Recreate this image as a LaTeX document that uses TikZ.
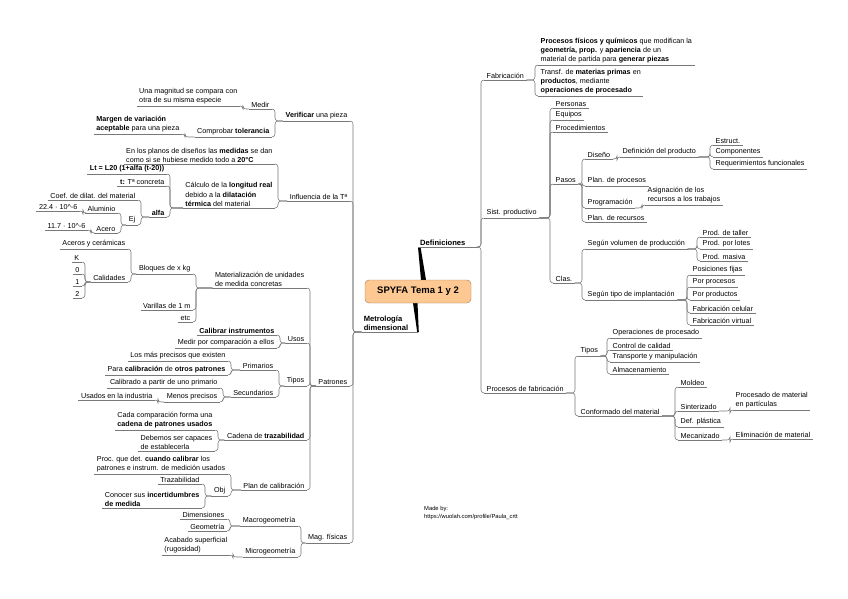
\documentclass[tikz,border=0pt]{standalone}
\usepackage{fontspec}
\setmainfont{Liberation Sans}
\usetikzlibrary{positioning}

\definecolor{linegray}{RGB}{120,120,120}
\definecolor{rootfill}{RGB}{253,200,145}
\definecolor{rootdraw}{RGB}{160,120,90}

\begin{document}
\begin{tikzpicture}[
    x=1pt, y=-1pt,
    uline/.style={draw=linegray, line width=0.55pt},
    topic/.style={font=\fontsize{7.2}{9.2}\selectfont, inner xsep=2.5pt, inner ysep=1.4pt, align=left,
        append after command={(\tikzlastnode.south west) edge[uline] (\tikzlastnode.south east)}},
    ltopic/.style={topic, anchor=south east},
    rtopic/.style={topic, anchor=south west},
    mainbranch/.style={font=\bfseries\fontsize{7.6}{9}\selectfont, inner xsep=2pt, inner ysep=1.4pt, align=left},
    root/.style={draw=rootdraw, fill=rootfill, rounded corners=4pt, minimum width=106pt, minimum height=23pt,
        font=\bfseries\fontsize{9.5}{11}\selectfont},
    rlink/.style={draw=linegray, line width=0.55pt, rounded corners=3pt,
        to path={-| ([xshift=-3pt]\tikztotarget.south west) -- (\tikztotarget.south west)}},
    llink/.style={draw=linegray, line width=0.55pt, rounded corners=3pt,
        to path={-| ([xshift=3pt]\tikztotarget.south east) -- (\tikztotarget.south east)}},
    credit/.style={font=\fontsize{5.8}{7.6}\selectfont, inner sep=0pt, align=left}
]
\fill[white] (0,0) rectangle (848,599);
\useasboundingbox (0,0) rectangle (848,599);

% centre
\fill[black] (418,247) -- (420.5,247) -- (426,280) -- (421,280) -- cycle;
\fill[black] (413,303) -- (417.5,303) -- (418.8,332) -- (417.2,332) -- cycle;
\node[root] (root) at (418,291.5) {SPYFA Tema 1 y 2};
\node[mainbranch, anchor=south west, text width=56pt] (defin) at (418,247) {Definiciones};
\node[mainbranch, anchor=south east, text width=52pt] (metro) at (418,332) {Metrología\\dimensional};
\draw[uline] (defin.south west) -- (defin.south east);
\draw[uline] (metro.south west) -- (metro.south east);

% Definiciones
\node[rtopic] (fabric) at (484,80) {Fabricación};
\node[rtopic] (fabdef1) at (538,65) {\textbf{Procesos físicos y químicos} que modifican la\\\textbf{geometría, prop.} y \textbf{apariencia} de un\\material de partida para \textbf{generar piezas}};
\node[rtopic] (fabdef2) at (538,96) {Transf. de \textbf{materias primas} en\\\textbf{productos}, mediante\\\textbf{operaciones de procesado}};

\node[rtopic] (sist) at (484,218) {Sist. productivo};
\node[rtopic] (pers) at (553,108) {Personas};
\node[rtopic] (equi) at (553,120) {Equipos};
\node[rtopic] (procd) at (553,132) {Procedimientos};
\node[rtopic] (pasos) at (553,184) {Pasos};
\node[rtopic] (disen) at (585,159) {Diseño};
\node[rtopic] (defprod) at (620,157) {Definición del producto};
\node[rtopic] (estr) at (713,145) {Estruct.};
\node[rtopic] (comp) at (713,157) {Componentes};
\node[rtopic] (requ) at (713,169) {Requerimientos funcionales};
\node[rtopic] (planproc) at (585,186) {Plan. de procesos};
\node[rtopic] (progr) at (585,208) {Programación};
\node[rtopic] (asign) at (645,205) {Asignación de los\\recursos a los trabajos};
\node[rtopic] (planrec) at (585,222) {Plan. de recursos};
\node[rtopic] (clas) at (553,283) {Clas.};
\node[rtopic] (volum) at (585,249) {Según volumen de producción};
\node[rtopic] (taller) at (700,237) {Prod. de taller};
\node[rtopic] (lotes) at (700,249) {Prod. por lotes};
\node[rtopic] (masiva) at (700,261) {Prod. masiva};
\node[rtopic] (implan) at (585,300) {Según tipo de implantación};
\node[rtopic] (posfij) at (690,275) {Posiciones fijas};
\node[rtopic] (porproc) at (690,287) {Por procesos};
\node[rtopic] (porprod) at (690,300) {Por productos};
\node[rtopic] (celul) at (690,313) {Fabricación celular};
\node[rtopic] (virt) at (690,325) {Fabricación virtual};

\node[rtopic] (procfab) at (484,393) {Procesos de fabricación};
\node[rtopic] (tipos) at (578,356) {Tipos};
\node[rtopic] (operproc) at (610,338) {Operaciones de procesado};
\node[rtopic] (calidad) at (610,350) {Control de calidad};
\node[rtopic] (transp) at (610,362) {Transporte y manipulación};
\node[rtopic] (almac) at (610,374) {Almacenamiento};
\node[rtopic] (conform) at (578,416) {Conformado del material};
\node[rtopic] (moldeo) at (678,387) {Moldeo};
\node[rtopic] (sinter) at (678,411) {Sinterizado};
\node[rtopic] (procpart) at (733,410) {Procesado de material\\en partículas};
\node[rtopic] (defplast) at (678,427) {Def. plástica};
\node[rtopic] (mecan) at (678,440) {Mecanizado};
\node[rtopic] (elim) at (733,439) {Eliminación de material};

% Metrologia dimensional
\node[ltopic] (verif) at (350,121) {\textbf{Verificar} una pieza};
\node[ltopic] (medir) at (272,109) {Medir};
\node[ltopic] (magn) at (240,106) {Una magnitud se compara con\\otra de su misma especie};
\node[ltopic] (compr) at (272,137) {Comprobar \textbf{tolerancia}};
\node[ltopic] (margen) at (182,134) {\textbf{Margen de variación}\\\textbf{aceptable} para una pieza};

\node[ltopic] (influ) at (350,201) {Influencia de la Tª};
\node[ltopic] (planos) at (275,164) {En los planos de diseños las \textbf{medidas} se dan\\como si se hubiese medido todo a \textbf{20°C}};
\node[ltopic] (calc) at (275,208) {Cálculo de la \textbf{longitud real}\\debido a la \textbf{dilatación}\\\textbf{térmica} del material};
\node[ltopic] (lt) at (167,174) {\textbf{Lt = L20 (1+alfa (t-20))}};
\node[ltopic] (tconc) at (167,186) {\textbf{t:} Tª concreta};
\node[ltopic] (alfa) at (167,217) {\textbf{alfa}};
\node[ltopic] (coef) at (138,200) {Coef. de dilat. del material};
\node[ltopic] (ej) at (138,225) {Ej};
\node[ltopic] (alum) at (118,213) {Aluminio};
\node[ltopic] (alumv) at (80,211) {22.4 · 10\textasciicircum{}-6};
\node[ltopic] (acero) at (118,233) {Acero};
\node[ltopic] (acerov) at (88,230) {11.7 · 10\textasciicircum{}-6};

\node[ltopic] (patron) at (350,386) {Patrones};
\node[ltopic] (mater) at (307,288) {Materialización de unidades\\de medida concretas};
\node[ltopic] (bloq) at (193,274) {Bloques de x kg};
\node[ltopic] (aceros) at (128,249) {Aceros y cerámicas};
\node[ltopic] (calid) at (128,282) {Calidades};
\node[ltopic] (qk) at (82,262) {K};
\node[ltopic] (q0) at (82,274) {0};
\node[ltopic] (q1) at (82,286) {1};
\node[ltopic] (q2) at (82,298) {2};
\node[ltopic] (varil) at (193,310) {Varillas de 1 m};
\node[ltopic] (etc) at (193,322) {etc};
\node[ltopic] (usos) at (307,343) {Usos};
\node[ltopic] (calinst) at (277,335) {\textbf{Calibrar instrumentos}};
\node[ltopic] (medcomp) at (277,348) {Medir por comparación a ellos};
\node[ltopic] (ptipos) at (307,386) {Tipos};
\node[ltopic] (prim) at (276,370) {Primarios};
\node[ltopic] (maspre) at (228,361) {Los más precisos que existen};
\node[ltopic] (paracal) at (228,375) {Para \textbf{calibración} de \textbf{otros patrones}};
\node[ltopic] (secun) at (276,397) {Secundarios};
\node[ltopic] (calpart) at (220,388) {Calibrado a partir de uno primario};
\node[ltopic] (menos) at (220,402) {Menos precisos};
\node[ltopic] (usados) at (155,400) {Usados en la industria};
\node[ltopic] (cadena) at (307,440) {Cadena de \textbf{trazabilidad}};
\node[ltopic] (cadacomp) at (215,430) {Cada comparación forma una\\\textbf{cadena de patrones usados}};
\node[ltopic] (debemos) at (215,451) {Debemos ser capaces\\de establecerla};
\node[ltopic] (plan) at (307,490) {Plan de calibración};
\node[ltopic] (procdet) at (228,474) {Proc. que det. \textbf{cuando calibrar} los\\patrones e instrum. de medición usados};
\node[ltopic] (obj) at (228,496) {Obj};
\node[ltopic] (traz) at (202,484) {Trazabilidad};
\node[ltopic] (conocer) at (202,508) {Conocer sus \textbf{incertidumbres}\\\textbf{de medida}};

\node[ltopic] (magf) at (350,543) {Mag. físicas};
\node[ltopic] (macro) at (298,526) {Macrogeometría};
\node[ltopic] (dimen) at (227,519) {Dimensiones};
\node[ltopic] (geom) at (227,531) {Geometría};
\node[ltopic] (micro) at (298,557) {Microgeometría};
\node[ltopic] (acabado) at (230,555) {Acabado superficial\\(rugosidad)};

\node[credit, anchor=north west] (made) at (424,506) {Made by:\\https://wuolah.com/profile/Paula\_crtt};

% connectors, right side
\path (defin.south east) edge[rlink] (fabric) edge[rlink] (sist) edge[rlink] (procfab);
\path (fabric.south east) edge[rlink] (fabdef1) edge[rlink] (fabdef2);
\path (sist.south east) edge[rlink] (pers) edge[rlink] (equi) edge[rlink] (procd) edge[rlink] (pasos) edge[rlink] (clas);
\path (pasos.south east) edge[rlink] (disen) edge[rlink] (planproc) edge[rlink] (progr) edge[rlink] (planrec);
\path (disen.south east) edge[rlink] (defprod);
\path (defprod.south east) edge[rlink] (estr) edge[rlink] (comp) edge[rlink] (requ);
\path (progr.south east) edge[rlink] (asign);
\path (clas.south east) edge[rlink] (volum) edge[rlink] (implan);
\path (volum.south east) edge[rlink] (taller) edge[rlink] (lotes) edge[rlink] (masiva);
\path (implan.south east) edge[rlink] (posfij) edge[rlink] (porproc) edge[rlink] (porprod) edge[rlink] (celul) edge[rlink] (virt);
\path (procfab.south east) edge[rlink] (tipos) edge[rlink] (conform);
\path (tipos.south east) edge[rlink] (operproc) edge[rlink] (calidad) edge[rlink] (transp) edge[rlink] (almac);
\path (conform.south east) edge[rlink] (moldeo) edge[rlink] (sinter) edge[rlink] (defplast) edge[rlink] (mecan);
\path (sinter.south east) edge[rlink] (procpart);
\path (mecan.south east) edge[rlink] (elim);

% connectors, left side
\path (metro.south west) edge[llink] (verif) edge[llink] (influ) edge[llink] (patron) edge[llink] (magf);
\path (verif.south west) edge[llink] (medir) edge[llink] (compr);
\path (medir.south west) edge[llink] (magn);
\path (compr.south west) edge[llink] (margen);
\path (influ.south west) edge[llink] (planos) edge[llink] (calc);
\path (calc.south west) edge[llink] (lt) edge[llink] (tconc) edge[llink] (alfa);
\path (alfa.south west) edge[llink] (coef) edge[llink] (ej);
\path (ej.south west) edge[llink] (alum) edge[llink] (acero);
\path (alum.south west) edge[llink] (alumv);
\path (acero.south west) edge[llink] (acerov);
\path (patron.south west) edge[llink] (mater) edge[llink] (usos) edge[llink] (ptipos) edge[llink] (cadena) edge[llink] (plan);
\path (mater.south west) edge[llink] (bloq) edge[llink] (varil) edge[llink] (etc);
\path (bloq.south west) edge[llink] (aceros) edge[llink] (calid);
\path (calid.south west) edge[llink] (qk) edge[llink] (q0) edge[llink] (q1) edge[llink] (q2);
\path (usos.south west) edge[llink] (calinst) edge[llink] (medcomp);
\path (ptipos.south west) edge[llink] (prim) edge[llink] (secun);
\path (prim.south west) edge[llink] (maspre) edge[llink] (paracal);
\path (secun.south west) edge[llink] (calpart) edge[llink] (menos);
\path (menos.south west) edge[llink] (usados);
\path (cadena.south west) edge[llink] (cadacomp) edge[llink] (debemos);
\path (plan.south west) edge[llink] (procdet) edge[llink] (obj);
\path (obj.south west) edge[llink] (traz) edge[llink] (conocer);
\path (magf.south west) edge[llink] (macro) edge[llink] (micro);
\path (macro.south west) edge[llink] (dimen) edge[llink] (geom);
\path (micro.south west) edge[llink] (acabado);
\end{tikzpicture}
\end{document}
